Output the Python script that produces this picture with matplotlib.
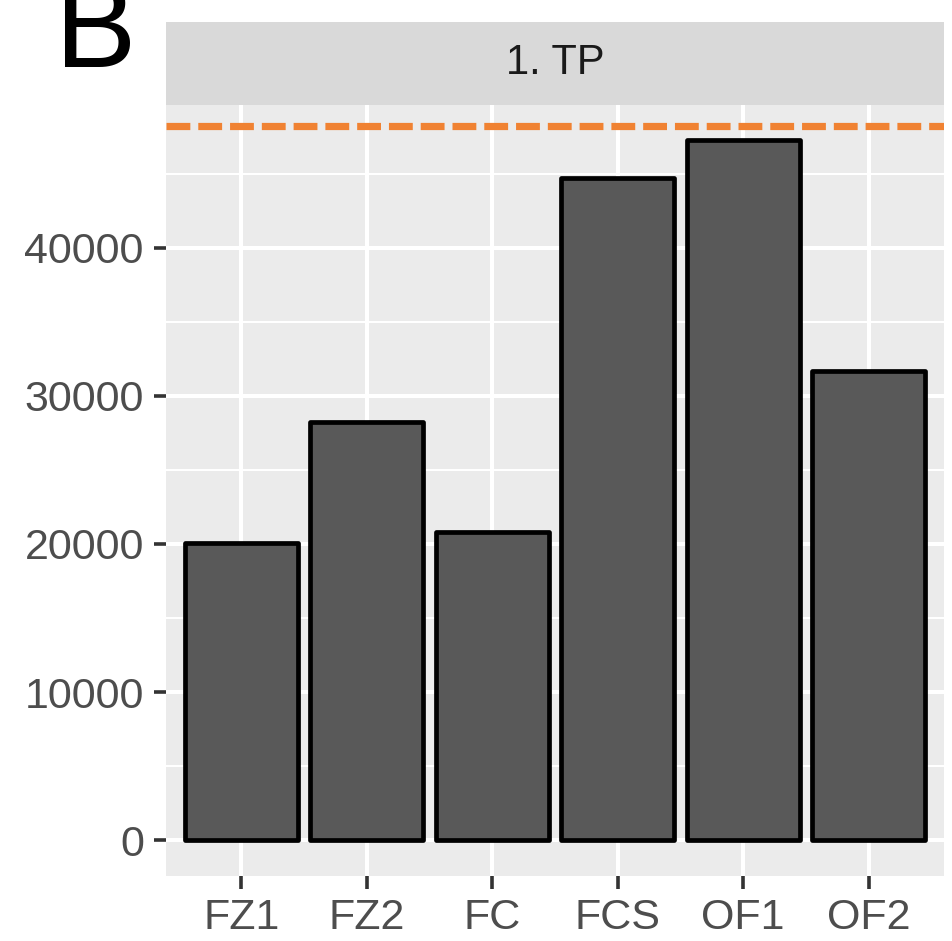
import matplotlib
matplotlib.use("Agg")
import matplotlib.pyplot as plt
from matplotlib.ticker import MultipleLocator

# data
groups = ["FZ1", "FZ2", "FC", "FCS", "OF1", "OF2"]
values = [20100, 28200, 20800, 44700, 47250, 31700]
ref_line = 48200
yticks = [0, 10000, 20000, 30000, 40000]
panel_title = "1. TP"

plt.rcParams["font.family"] = ["Liberation Sans", "DejaVu Sans"]

fig = plt.figure(figsize=(9.52, 9.41), dpi=100)
ax = fig.add_axes([166 / 952, 65 / 941, 778 / 952, 771 / 941])
ax.set_facecolor("#EBEBEB")

x = list(range(len(groups)))
ax.bar(x, values, width=0.9, color="#595959", edgecolor="black",
       linewidth=3.4, joinstyle="round", zorder=3)
ax.axhline(ref_line, color="#F08232", linewidth=5.2, dashes=(3.3, 1.1), zorder=4)

ax.set_xlim(-0.6, len(groups) - 0.4)
ax.set_ylim(-2410, 49630)
ax.set_xticks(x)
ax.set_xticklabels(groups)
ax.set_yticks(yticks)
ax.yaxis.set_minor_locator(MultipleLocator(5000))

ax.grid(which="major", color="white", linewidth=2.9, zorder=0)
ax.grid(which="minor", axis="y", color="white", linewidth=1.5, zorder=0)
ax.set_axisbelow(True)
for s in ax.spines.values():
    s.set_visible(False)

ax.tick_params(axis="both", which="major", length=9, width=2.6, color="#333333",
               labelsize=31, labelcolor="#4D4D4D", pad=7)
ax.tick_params(axis="both", which="minor", length=0)

# facet strip
strip = fig.add_axes([166 / 952, 836 / 941, 778 / 952, 83 / 941])
strip.set_facecolor("#D9D9D9")
strip.set_xticks([])
strip.set_yticks([])
for s in strip.spines.values():
    s.set_visible(False)
strip.text(0.5, 0.5, panel_title, ha="center", va="center", fontsize=30,
           color="#1A1A1A", transform=strip.transAxes)

fig.text(55 / 952, 1 - 67 / 941, "B", fontsize=88, color="black",
         ha="left", va="baseline")

fig.savefig("out.png", dpi=100)
